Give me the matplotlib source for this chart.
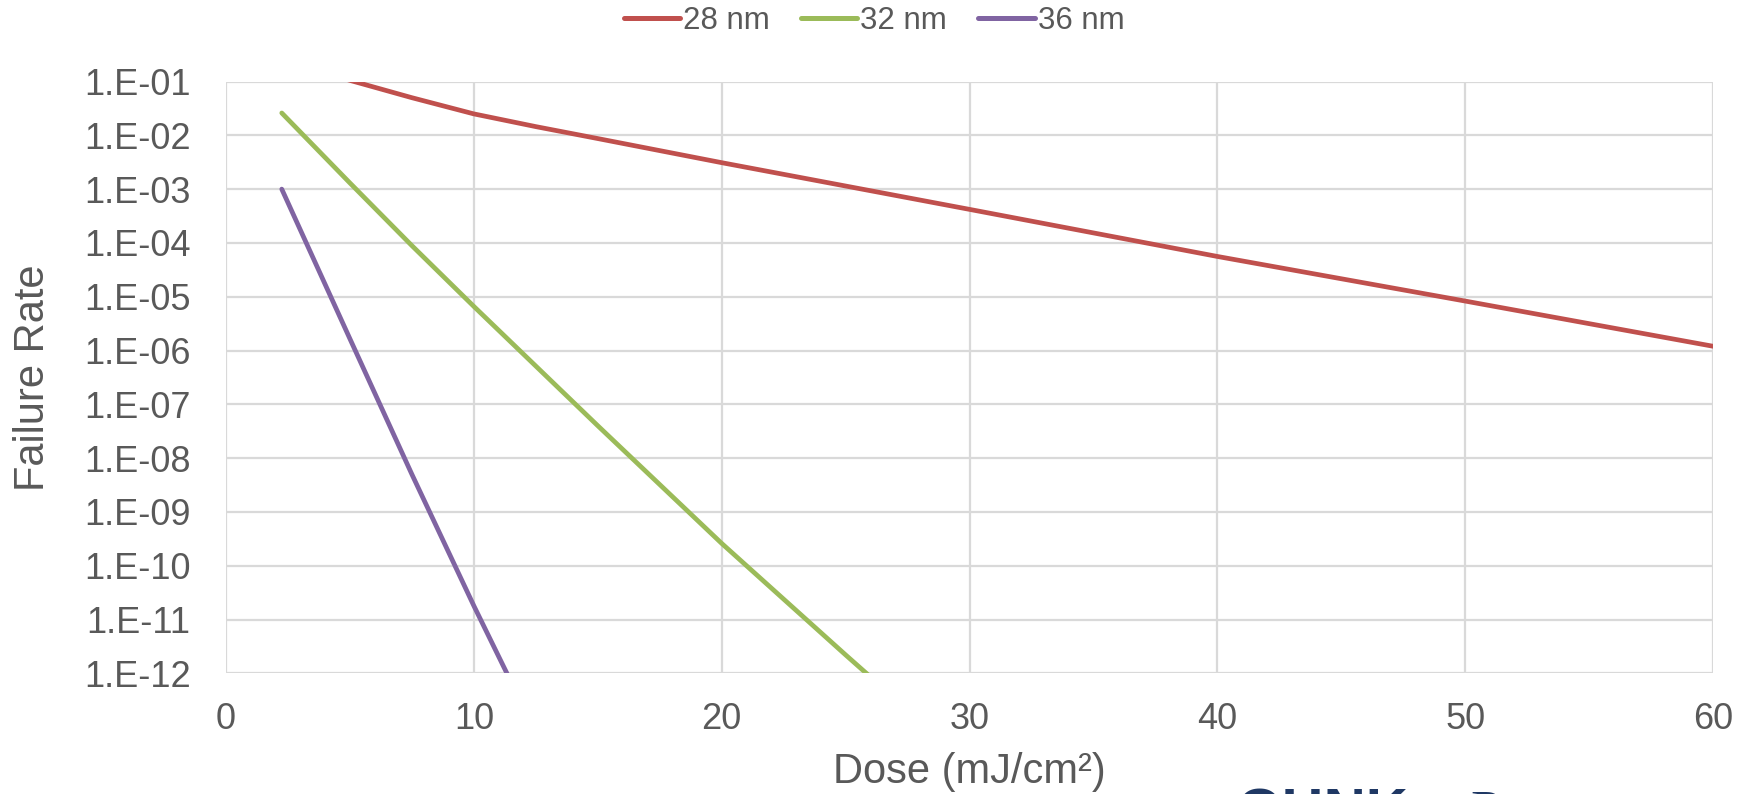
import matplotlib
matplotlib.use("Agg")
import matplotlib.pyplot as plt
from matplotlib.ticker import FixedLocator, FixedFormatter

plt.rcParams['font.family'] = ['Liberation Sans', 'DejaVu Sans']

# Data (dose in mJ/cm^2, failure rate)
dose_28 = [2.25, 5, 7.5, 10, 12.5, 15, 20, 30, 40, 50, 60]
rate_28 = [2.5e-1, 1.05e-1, 5.0e-2, 2.5e-2, 1.45e-2, 8.7e-3, 3.1e-3, 4.2e-4, 5.6e-5, 8.3e-6, 1.2e-6]

dose_32 = [2.25, 5, 7.5, 10, 15, 20, 25, 30]
rate_32 = [2.6e-2, 1.3e-3, 8.9e-5, 6.6e-6, 4.0e-8, 2.6e-10, 2.2e-12, 2.0e-14]

dose_36 = [2.25, 5, 7.5, 10, 12.5]
rate_36 = [1.0e-3, 1.65e-6, 5.0e-9, 1.8e-11, 8.0e-14]

series_labels = ['28 nm', '32 nm', '36 nm']
series_colors = ['#C0504D', '#9BBB59', '#8064A2']

x_ticks = [0, 10, 20, 30, 40, 50, 60]
y_ticks = [1e-12, 1e-11, 1e-10, 1e-9, 1e-8, 1e-7, 1e-6, 1e-5, 1e-4, 1e-3, 1e-2, 1e-1]
y_tick_labels = ['1.E-12', '1.E-11', '1.E-10', '1.E-09', '1.E-08', '1.E-07',
                 '1.E-06', '1.E-05', '1.E-04', '1.E-03', '1.E-02', '1.E-01']

W, H = 1748, 794
fig = plt.figure(figsize=(W / 100, H / 100), dpi=100)
left, right, top, bottom = 226, 1713, 81.5, 673.3
ax = fig.add_axes([left / W, 1 - bottom / H, (right - left) / W, (bottom - top) / H])

txt_color = '#595959'
grid_color = '#D9D9D9'

for xs, ys, lab, col in zip([dose_28, dose_32, dose_36], [rate_28, rate_32, rate_36],
                            series_labels, series_colors):
    ax.plot(xs, ys, color=col, lw=3.4, label=lab, solid_capstyle='round',
            solid_joinstyle='round')

ax.set_yscale('log')
ax.set_xlim(0, 60)
ax.set_ylim(1e-12, 1e-1)
ax.yaxis.set_major_locator(FixedLocator(y_ticks))
ax.yaxis.set_major_formatter(FixedFormatter(y_tick_labels))
ax.yaxis.set_minor_locator(FixedLocator([]))
ax.xaxis.set_major_locator(FixedLocator(x_ticks))

ax.grid(True, color=grid_color, lw=1.6)
ax.set_axisbelow(True)
for s in ax.spines.values():
    s.set_visible(False)
ax.tick_params(axis='both', length=0, labelsize=26, labelcolor=txt_color)
ax.tick_params(axis='y', pad=25.5)
ax.tick_params(axis='x', pad=21)

ax.set_xlabel('Dose (mJ/cm²)', fontsize=30, color=txt_color, va='center')
ax.xaxis.set_label_coords(0.5, -0.167)
ax.set_ylabel('Failure Rate', fontsize=30, color=txt_color, va='center')
ax.yaxis.set_label_coords(-0.1295, 0.5)

leg = fig.legend(loc='center', bbox_to_anchor=(874 / W, 1 - 21 / H), ncol=3,
                 frameon=False, fontsize=22.5, handlelength=1.8, handletextpad=0.1,
                 columnspacing=1.0)
for t in leg.get_texts():
    t.set_color(txt_color)
for h in leg.legend_handles:
    h.set_linewidth(3.6)

# partially visible logo at bottom right
fig.text(1237 / W, -0.045, 'OHNK', fontsize=42, fontweight='bold', color='#1F3864',
         ha='left', va='baseline')
fig.text(1470 / W, -0.045, 'P', fontsize=40, family='Liberation Serif', color='#1F3864',
         ha='left', va='baseline')
fig.text(1522 / W, -0.036, 'OLYTECH', fontsize=24, color='#44546A',
         ha='left', va='baseline')

fig.savefig('out.png', dpi=100)
